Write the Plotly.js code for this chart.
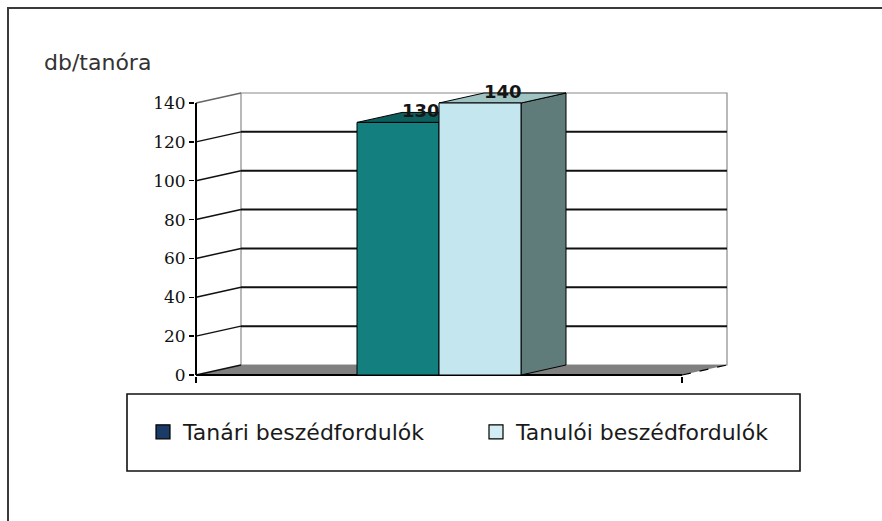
<!DOCTYPE html>
<html>
<head>
<meta charset="utf-8">
<script src="https://cdn.plot.ly/plotly-3.0.1.min.js"></script>
<style>html,body{margin:0;padding:0;background:#fff;}#chart{width:882px;height:521px;}</style>
</head>
<body>
<div id="chart"></div>
<script>
// ---- data ----
const seriesNames = ['Tanári beszédfordulók', 'Tanulói beszédfordulók'];
const seriesValues = [130, 140];
const yTickVals = [0, 20, 40, 60, 80, 100, 120, 140];
const yTickText = ['0', '20', '40', '60', '80', '100', '120', '140'];
const yAxisLabel = 'db/tanóra';

// ---- styles ----
const frontColors = ['#137f7e', '#c4e7ef'];
const topColors = ['#0d5f5e', '#9fc2c2'];
const sideColors = ['#0b5453', '#5f7b7a'];
const legendColors = ['#1b3b66', '#d2eef2'];

// ---- layout geometry (pixels) ----
const W = 882, H = 521;
const L = 195, R = 730, T = 88, B = 376;
const frontLeftPx = 196, frontRightPx = 682, zeroPx = 375, topTickPx = 103;
const depthXPx = 45, depthYPx = 10;
const yMax = Math.max(...yTickVals);
const pxPerX = frontRightPx - frontLeftPx;
const pxPerY = (zeroPx - topTickPx) / yMax;
const xr = [-0.5 - (frontLeftPx - L) / pxPerX, -0.5 + (R - frontLeftPx) / pxPerX];
const yr = [-(B - zeroPx) / pxPerY, (zeroPx - T) / pxPerY];
const dxu = depthXPx / pxPerX, dyu = depthYPx / pxPerY;
const bargap = 1 - 2 * 82 / pxPerX;
const px2paperX = px => (px - L) / (R - L);
const px2paperY = py => (B - py) / (B - T);

const shapes = [];
// outer frame
shapes.push({type: 'rect', xref: 'paper', yref: 'paper', x0: px2paperX(8), x1: px2paperX(900), y0: px2paperY(8), y1: px2paperY(540), line: {color: '#3a3a3a', width: 2}, layer: 'below'});
// back wall
shapes.push({type: 'rect', xref: 'x', yref: 'y', x0: -0.5 + dxu, x1: 0.5 + dxu, y0: dyu, y1: yMax + dyu, fillcolor: '#ffffff', line: {color: '#8a8a8a', width: 1.2}, layer: 'below'});
// floor
shapes.push({type: 'path', xref: 'x', yref: 'y', path: `M${-0.5},0 L${0.5},0 L${0.5 + dxu},${dyu} L${-0.5 + dxu},${dyu} Z`, fillcolor: '#808080', line: {width: 0}, layer: 'below'});
// back gridlines and side diagonals
yTickVals.forEach(t => {
  if (t > 0 && t < yMax) {
    shapes.push({type: 'line', xref: 'x', yref: 'y', x0: -0.5 + dxu, x1: 0.5 + dxu, y0: t + dyu, y1: t + dyu, line: {color: '#111', width: 2}, layer: 'below'});
  }
  shapes.push({type: 'line', xref: 'x', yref: 'y', x0: -0.5, x1: -0.5 + dxu, y0: t, y1: t + dyu, line: {color: t === yMax ? '#666' : '#111', width: 1.5}, layer: 'below'});
});
// floor front edge and right diagonal
shapes.push({type: 'line', xref: 'x', yref: 'y', x0: -0.5, x1: 0.5, y0: 0, y1: 0, line: {color: '#000', width: 2}, layer: 'below'});
shapes.push({type: 'line', xref: 'x', yref: 'y', x0: 0.5, x1: 0.5 + dxu, y0: 0, y1: dyu, line: {color: '#000', width: 1.2, dash: 'dash'}, layer: 'below'});
// front value axis line
shapes.push({type: 'line', xref: 'x', yref: 'y', x0: -0.5, x1: -0.5, y0: 0, y1: yMax, line: {color: '#000', width: 2}, layer: 'below'});

// 3D faces of bars
const nS = seriesValues.length;
const bw = (1 - bargap) / nS;
const annotations = [];
seriesValues.forEach((v, i) => {
  const left = -(1 - bargap) / 2 + i * bw, right = left + bw;
  shapes.push({type: 'path', xref: 'x', yref: 'y', path: `M${right},0 L${right + dxu},${dyu} L${right + dxu},${v + dyu} L${right},${v} Z`, fillcolor: sideColors[i], line: {color: '#000', width: 1}, layer: 'below'});
  shapes.push({type: 'path', xref: 'x', yref: 'y', path: `M${left},${v} L${right},${v} L${right + dxu},${v + dyu} L${left + dxu},${v + dyu} Z`, fillcolor: topColors[i], line: {color: '#000', width: 1}, layer: 'below'});
  annotations.push({xref: 'x', yref: 'y', x: left + bw / 2 + dxu / 2, y: v + dyu, yshift: 2, text: String(v), showarrow: false, xanchor: 'center', yanchor: 'middle', font: {family: 'DejaVu Sans', size: 18, weight: 700, color: '#151515'}});
});
// legend frame
shapes.push({type: 'rect', xref: 'paper', yref: 'paper', x0: px2paperX(127), x1: px2paperX(800), y0: px2paperY(394), y1: px2paperY(471), line: {color: '#111', width: 1.6}, layer: 'below'});

annotations.push({xref: 'paper', yref: 'paper', x: px2paperX(42), y: px2paperY(63), xanchor: 'left', yanchor: 'middle', text: yAxisLabel, showarrow: false, font: {family: 'DejaVu Sans', size: 22, color: '#333'}});

const legendIds = ['legend', 'legend2'];
const traces = seriesValues.map((v, i) => ({
  type: 'bar', x: [0], y: [v], name: seriesNames[i], showlegend: false,
  marker: {color: frontColors[i], line: {color: '#000', width: 1}}, hoverinfo: 'y'
}));
seriesNames.forEach((n, i) => traces.push({
  type: 'scatter', mode: 'markers', x: [null], y: [null], name: n, showlegend: true, legend: legendIds[i],
  marker: {symbol: 'square', size: 14, color: legendColors[i], line: {color: '#000', width: 1.2}}
}));

const legendBase = {orientation: 'h', xanchor: 'left', yanchor: 'middle', y: px2paperY(432),
  bgcolor: 'rgba(0,0,0,0)', borderwidth: 0, font: {family: 'DejaVu Sans', size: 22, color: '#1a1a1a'},
  itemsizing: 'trace'};

const layout = {
  width: W, height: H,
  margin: {l: L, r: W - R, t: T, b: H - B, pad: 0},
  paper_bgcolor: '#fff', plot_bgcolor: 'rgba(0,0,0,0)',
  barmode: 'group', bargap: bargap,
  xaxis: {type: 'linear', range: xr, showgrid: false, zeroline: false, showline: false,
    tickmode: 'array', tickvals: [-0.5, 0.5], showticklabels: false, ticks: 'outside', ticklen: 6, tickcolor: '#000', tickwidth: 1.5, fixedrange: true},
  yaxis: {range: yr, showgrid: false, zeroline: false, showline: false,
    tickmode: 'array', tickvals: yTickVals, ticktext: yTickText, ticks: 'outside', ticklen: 5, tickcolor: '#000', tickwidth: 1.5,
    tickfont: {family: 'DejaVu Serif', size: 17, color: '#111'}, fixedrange: true},
  showlegend: true,
  legend: Object.assign({}, legendBase, {x: px2paperX(143)}),
  legend2: Object.assign({}, legendBase, {x: px2paperX(476)}),
  shapes: shapes,
  annotations: annotations
};
Plotly.newPlot('chart', traces, layout, {displayModeBar: false, staticPlot: true});
</script>
</body>
</html>
